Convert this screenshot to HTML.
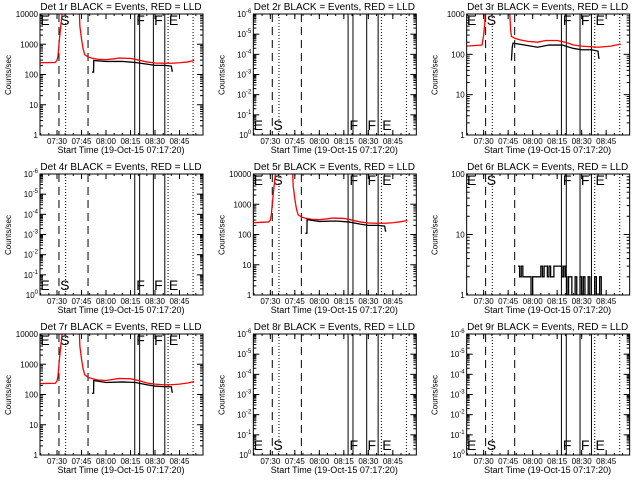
<!DOCTYPE html>
<html><head><meta charset="utf-8">
<style>
html,body{margin:0;padding:0;background:#fff;}
svg{display:block;font-family:"Liberation Sans",sans-serif;}
</style></head>
<body>
<svg id="chart" width="640" height="480" viewBox="0 0 640 480" xmlns="http://www.w3.org/2000/svg"></svg>
<script>
// Data: time in minutes after 07:30, values in counts/sec
const detNames = ["1r","2r","3r","4r","5r","6r","7r","8r","9r"];
const panelYMin = [0,-6,0,-6,0,0,0,-6,-6];   // log10 decades
const panelYMax = [4,0,3,0,4,2,4,0,0];
const xTickLabels = ["07:30","07:45","08:00","08:15","08:30","08:45"];
const xTickTimes = [0,15,30,45,60,75];
const dashedTimes = [1.2,19.0];
const dottedTimes = [5.3,68,83.3];
const solidTimes = [47.6,50.6,59,66];
const markerLetters = ["E","S","F","F","E"];
const markerTimes = [-10.2,1.9,48.5,59.5,68.5];

const redT1 = [-10.4,-1,0,0.6,1.5,2.5,3.7,13.5,14,15,16,17,19,21,25,30,35,38,45,50,55,60,65,70,75,80,84];
const redV1 = [245,250,300,400,1500,5000,20000,20000,4000,1500,700,450,380,350,320,310,330,350,340,300,260,240,235,235,245,260,290];
const blkT1 = [21.4,22.4,22.5,30,40,48,55,60,66,70,70.5,71];
const blkV1 = [120,120,290,270,270,250,220,200,200,190,130,130];

const redT3 = [-10.4,-1,0,0.7,1.2,15.5,16,16.5,17,19,22,27,33,38,45,50,55,60,70,78,84];
const redV3 = [160,170,300,600,2000,2000,1000,400,280,250,230,210,200,220,220,200,170,160,150,160,180];
const blkT3 = [17,17.5,18,25,33,40,48,55,60,66,70,70.5,71];
const blkV3 = [70,150,190,170,150,170,170,140,130,130,120,80,80];

const redT5 = [-10.4,-1,0,0.6,1.5,2.5,3.7,13.5,14,15,16,17,19,21,25,30,35,38,45,50,55,60,65,70,75,80,84];
const redV5 = [245,260,300,450,1500,5000,20000,20000,4000,1500,700,450,380,350,320,310,330,350,340,300,260,240,235,235,245,265,290];
const blkT5 = [21.4,22.4,22.5,30,40,48,55,60,66,70,70.5,71];
const blkV5 = [110,110,310,270,280,260,220,200,200,190,130,130];

const redT7 = [-10.4,-1,0,0.6,1.5,2.5,3.7,13.5,14,15,16,17,19,21,25,30,35,38,45,50,55,60,65,70,75,80,84];
const redV7 = [230,235,280,400,1500,5000,20000,20000,4000,1500,700,450,370,340,300,290,320,340,330,290,240,220,210,210,220,240,270];
const blkT7 = [21.4,22.4,22.5,30,40,48,55,60,66,70,70.5,71];
const blkV7 = [110,110,290,250,260,250,210,190,180,180,120,120];

const blkT6 = [];
for (let i = 0; i < 53; i++) blkT6.push(21 + i);
const blkV6 = [3,2,3,2,2,2,2,2,1,2,2,2,2,2,3,2,3,3,2,3,2,2,3,3,3,3,3,2,3,2,1,2,2,1,1,2,1,1,2,1,2,1,1,2,1,1,1,2,1,1,2,1,1];

const redSeries = [[redT1,redV1],null,[redT3,redV3],null,[redT5,redV5],null,[redT7,redV7],null,null];
const blkSeries = [[blkT1,blkV1],null,[blkT3,blkV3],null,[blkT5,blkV5],[blkT6,blkV6],[blkT7,blkV7],null,null];

const NS = "http://www.w3.org/2000/svg";
const svg = document.getElementById("chart");
function mk(tag, attrs, parent) {
  const e = document.createElementNS(NS, tag);
  for (const k in attrs) e.setAttribute(k, attrs[k]);
  (parent || svg).appendChild(e);
  return e;
}

for (let p = 0; p < 9; p++) {
  const col = p % 3, row = Math.floor(p / 3);
  const ox = col * 213.33, oy = row * 160;
  const bx0 = ox + 40, bx1 = ox + 203, by0 = oy + 14, by1 = oy + 135;
  const xs = t => ox + 57 + t * 24.5 / 15;
  const ymin = panelYMin[p], ymax = panelYMax[p];
  const ys = v => by1 - (Math.log10(v) - ymin) / (ymax - ymin) * (by1 - by0);

  const g = mk("g", {});
  
  

  const clipId = "clip" + p;
  const cp = mk("clipPath", {id: clipId}, g);
  mk("rect", {x: bx0, y: by0, width: bx1 - bx0, height: by1 - by0}, cp);

  // title
  const title = mk("text", {x: ox + 121, y: oy + 10, "text-anchor": "middle", "font-size": "10"}, g);
  title.textContent = "Det " + detNames[p] + " BLACK = Events, RED = LLD";
  
  

  // x label
  const xl = mk("text", {x: ox + 121, y: oy + 153, "text-anchor": "middle", "font-size": "9"}, g);
  xl.textContent = "Start Time (19-Oct-15 07:17:20)";
  
  

  // y label
  const yl = mk("text", {x: 0, y: 0, "text-anchor": "middle", "font-size": "8", transform: "translate(" + (ox + 11) + "," + (oy + 75) + ") rotate(-90)"}, g);
  yl.textContent = "Counts/sec";
  
  

  // x ticks
  for (let i = 0; i < xTickTimes.length; i++) {
    const x = xs(xTickTimes[i]);
    mk("line", {x1: x, x2: x, y1: by1, y2: by1 - 5, stroke: "#000", "stroke-width": 1}, g);
    mk("line", {x1: x, x2: x, y1: by0, y2: by0 + 5, stroke: "#000", "stroke-width": 1}, g);
    const t = mk("text", {x: x, y: by1 + 9, "text-anchor": "middle", "font-size": "8"}, g);
    t.textContent = xTickLabels[i];
    
    
  }
  for (let m = -10; m <= 85; m += 5) {
    const x = xs(m);
    if (x < bx0 || x > bx1) continue;
    mk("line", {x1: x, x2: x, y1: by1, y2: by1 - 2, stroke: "#000"}, g);
    mk("line", {x1: x, x2: x, y1: by0, y2: by0 + 2, stroke: "#000"}, g);
  }

  // y ticks
  for (let d = ymin; d <= ymax; d++) {
    const y = ys(Math.pow(10, d));
    mk("line", {x1: bx0, x2: bx0 + 6, y1: y, y2: y, stroke: "#000"}, g);
    mk("line", {x1: bx1, x2: bx1 - 6, y1: y, y2: y, stroke: "#000"}, g);
    const t = mk("text", {x: bx0 - 2, y: y + 3, "text-anchor": "end", "font-size": "8"}, g);
    
    
    if (ymin < 0) {
      t.textContent = "10";
      const s = mk("tspan", {dy: -4, "font-size": "6"}, t);
      s.textContent = d === 0 ? "0" : "-" + (-d === 0 ? 0 : (d === ymin ? 1 : -d + 1 - 1 + 1));
      // label pattern from reference: bottom 10^0, then 10^-1 .. 10^-6
      const idx = d - ymin;
      s.textContent = idx === 0 ? "0" : "-" + idx;
    } else {
      t.textContent = String(Math.pow(10, d));
    }
    if (d < ymax) {
      for (let k = 2; k <= 9; k++) {
        const yy = ys(k * Math.pow(10, d));
        mk("line", {x1: bx0, x2: bx0 + 3, y1: yy, y2: yy, stroke: "#000"}, g);
        mk("line", {x1: bx1, x2: bx1 - 3, y1: yy, y2: yy, stroke: "#000"}, g);
      }
    }
  }

  // vertical markers
  const mg = mk("g", {"clip-path": "url(#" + clipId + ")"}, g);
  dashedTimes.forEach(t => {
    const l = mk("line", {x1: xs(t), x2: xs(t), y1: by0, y2: by1, stroke: "#000", "stroke-dasharray": "8,5"}, mg);
    
    
  });
  dottedTimes.forEach(t => {
    const l = mk("line", {x1: xs(t), x2: xs(t), y1: by0, y2: by1, stroke: "#000", "stroke-dasharray": "1,2"}, mg);
    
    
  });
  solidTimes.forEach(t => {
    const l = mk("line", {x1: xs(t), x2: xs(t), y1: by0, y2: by1, stroke: "#000"}, mg);
    
    
  });

  // marker letters: top for data panels, bottom for empty panels
  const hasData = redSeries[p] || blkSeries[p];
  const ly = (ymin < 0) ? by1 - 5 : by0 + 11;
  for (let i = 0; i < markerLetters.length; i++) {
    const t = mk("text", {x: xs(markerTimes[i]), y: ly, "font-size": "14", "font-weight": "normal"}, mg);
    t.textContent = markerLetters[i];
    
    
  }

  // series
  function stepPath(T, V) {
    let d = "";
    for (let i = 0; i < T.length; i++) {
      const x = xs(T[i]), y = ys(V[i]);
      if (i === 0) d += "M" + x + "," + y;
      else d += "H" + x + "V" + y;
    }
    return d;
  }
  function linePath(T, V) {
    return T.map((t, i) => (i ? "L" : "M") + xs(t) + "," + ys(V[i])).join("");
  }
  if (redSeries[p]) {
    const path = mk("path", {d: linePath(redSeries[p][0], redSeries[p][1]), fill: "none", stroke: "#ff0000", "stroke-width": 1.3}, mg);
    
    
  }
  if (blkSeries[p]) {
    const f = p === 5 ? stepPath : linePath;
    const path = mk("path", {d: f(blkSeries[p][0], blkSeries[p][1]), fill: "none", stroke: "#000", "stroke-width": 1.3}, mg);
    
    
  }

  // box
  const box = mk("rect", {x: bx0, y: by0, width: bx1 - bx0, height: by1 - by0, fill: "none", stroke: "#000", "stroke-width": 1}, g);
  
  
}
</script>
</body></html>
